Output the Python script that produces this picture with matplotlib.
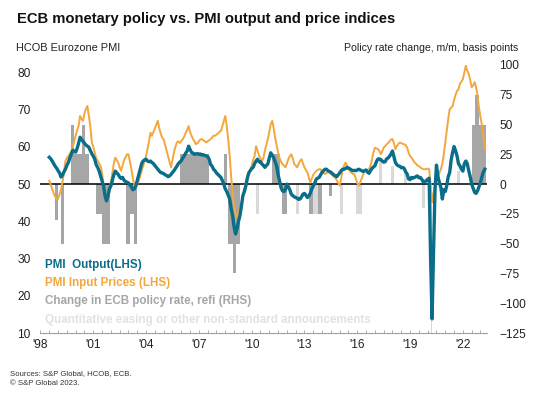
import pandas as pd
import matplotlib
matplotlib.use("Agg")
import matplotlib.pyplot as plt
from matplotlib.ticker import FixedLocator, MultipleLocator

plt.rcParams['font.family'] = ['Liberation Sans', 'DejaVu Sans']

# ─────────────────────────────────────────────
# DADOS (mensais a partir de jul/1998)
# ─────────────────────────────────────────────
INICIO = "1998-07"

pmi_output = [
    57.2, 56.8, 56.2, 55.5, 54.8, 54.3,                                  # 1998 (jul-dez)
    53.6, 53.0, 51.9, 52.4, 53.3, 54.0, 55.0, 55.8, 57.0, 58.0, 59.1, 58.8,  # 1999
    58.6, 59.6, 61.0, 62.6, 62.0, 61.5, 61.0, 60.5, 60.2, 59.9, 59.0, 58.2,  # 2000
    57.5, 56.7, 55.2, 54.5, 53.5, 52.2, 51.0, 49.5, 46.9, 45.5, 46.8, 48.7,  # 2001
    49.5, 51.0, 52.5, 53.5, 53.0, 52.6, 51.9, 51.5, 51.8, 51.0, 50.7, 50.5,  # 2002
    50.3, 49.8, 49.2, 48.5, 48.7, 49.5, 51.0, 52.5, 54.0, 55.5, 56.2, 56.5,  # 2003
    56.7, 56.2, 56.0, 56.2, 55.8, 55.5, 55.0, 54.5, 54.0, 53.5, 53.1, 53.0,  # 2004
    52.8, 52.5, 52.3, 52.0, 52.2, 52.6, 53.1, 53.6, 54.2, 54.8, 55.5, 55.9,  # 2005
    56.3, 57.0, 57.6, 58.3, 58.9, 60.2, 59.3, 58.5, 58.3, 58.0, 58.1, 58.2,  # 2006
    58.0, 58.1, 57.8, 57.9, 57.7, 57.6, 57.4, 56.7, 55.3, 54.8, 54.0, 53.6,  # 2007
    53.0, 52.6, 52.2, 51.8, 51.0, 50.0, 48.7, 48.0, 47.0, 46.0, 43.5, 41.5,  # 2008
    38.5, 36.6, 38.0, 40.0, 41.5, 44.0, 46.9, 48.0, 49.5, 51.5, 53.0, 53.6,  # 2009
    54.2, 54.5, 55.5, 56.2, 56.7, 56.0, 56.0, 55.4, 55.0, 54.5, 55.0, 55.4,  # 2010
    57.0, 58.4, 57.8, 57.1, 56.0, 54.9, 52.5, 50.9, 49.1, 48.2, 48.0, 48.5,  # 2011
    50.0, 49.3, 48.5, 47.3, 46.9, 46.6, 46.4, 46.2, 45.9, 46.0, 46.6, 47.3,  # 2012
    47.5, 47.0, 46.4, 46.8, 47.6, 48.7, 49.5, 50.3, 51.3, 51.6, 51.8, 52.5,  # 2013
    53.2, 53.6, 54.0, 54.0, 53.6, 53.4, 53.2, 52.8, 52.5, 52.2, 52.0, 52.5,  # 2014
    53.0, 53.6, 54.0, 54.0, 54.2, 54.5, 54.3, 54.1, 53.8, 53.6, 53.7, 53.6,  # 2015
    53.8, 54.0, 53.8, 53.6, 53.4, 53.6, 53.8, 53.2, 52.9, 53.6, 54.2, 54.6,  # 2016
    54.9, 56.0, 56.7, 56.8, 56.6, 56.2, 55.9, 56.0, 56.8, 57.0, 57.5, 58.1,  # 2017
    58.9, 57.3, 55.8, 55.2, 54.9, 54.8, 54.4, 54.5, 54.2, 53.3, 52.7, 51.4,  # 2018
    51.2, 51.8, 51.6, 51.8, 52.0, 52.2, 51.7, 51.8, 51.3, 50.6, 50.7, 50.9,  # 2019
    51.3, 51.6, 29.7, 13.8, 31.9, 48.5, 55.1, 52.0, 50.4, 49.1, 46.0, 48.5,  # 2020
    48.0, 49.6, 52.0, 53.1, 56.5, 58.5, 60.1, 59.0, 57.6, 55.5, 54.9, 54.0,  # 2021
    53.5, 55.5, 56.2, 55.5, 53.6, 52.0, 50.0, 48.9, 47.8, 47.5, 48.2, 49.3,  # 2022
    50.4, 52.0, 53.3, 54.0,                                              # 2023 (jan-abr)
]

input_prices = [
    50.9, 49.8, 48.7, 47.5, 46.6, 46.0,                                  # 1998 (jul-dez)
    46.0, 47.3, 48.5, 50.5, 53.0, 56.2, 57.0, 57.5, 58.2, 58.8, 59.8, 61.5,  # 1999
    63.0, 64.5, 65.6, 68.3, 67.5, 67.0, 69.0, 70.2, 71.0, 68.3, 65.5, 61.2,  # 2000
    60.0, 58.5, 57.0, 56.2, 55.5, 54.9, 53.0, 49.5, 48.0, 46.0, 46.5, 48.0,  # 2001
    50.4, 53.0, 55.5, 57.1, 56.5, 55.8, 54.5, 53.6, 55.0, 56.5, 57.2, 58.0,  # 2002
    58.0, 56.0, 54.0, 51.5, 49.5, 49.1, 50.0, 51.0, 52.2, 53.5, 54.8, 56.2,  # 2003
    57.5, 59.5, 61.5, 63.8, 63.0, 64.0, 65.0, 66.0, 67.0, 65.0, 63.5, 62.5,  # 2004
    62.0, 60.5, 59.0, 57.6, 56.0, 54.5, 56.5, 58.5, 60.0, 61.2, 61.5, 61.0,  # 2005
    61.6, 62.0, 62.8, 63.8, 64.5, 65.6, 64.0, 63.0, 62.1, 61.5, 60.7, 61.0,  # 2006
    61.5, 62.0, 62.1, 61.8, 61.5, 61.2, 61.5, 61.8, 62.1, 62.5, 63.0, 63.0,  # 2007
    63.3, 63.6, 64.0, 64.3, 65.5, 67.0, 68.3, 65.6, 62.0, 57.6, 52.0, 47.8,  # 2008
    44.0, 42.0, 41.1, 42.0, 43.3, 45.0, 47.0, 48.7, 50.5, 52.0, 53.0, 53.6,  # 2009
    55.0, 56.5, 57.6, 60.2, 59.0, 57.6, 57.0, 56.2, 57.0, 59.0, 60.5, 62.1,  # 2010
    64.0, 66.1, 67.0, 65.0, 62.5, 60.5, 58.5, 57.0, 56.0, 55.4, 55.0, 54.5,  # 2011
    55.5, 56.7, 57.5, 58.0, 57.0, 55.4, 55.0, 54.5, 55.5, 56.2, 56.7, 55.5,  # 2012
    54.5, 53.8, 53.1, 51.8, 50.4, 51.5, 52.5, 53.1, 53.5, 53.8, 54.0, 54.0,  # 2013
    53.5, 53.0, 52.7, 53.0, 53.2, 53.1, 52.8, 52.4, 52.0, 51.8, 51.0, 50.3,  # 2014
    49.6, 51.5, 53.5, 55.0, 55.8, 55.0, 54.0, 53.6, 53.0, 52.7, 52.7, 51.5,  # 2015
    50.2, 49.6, 50.5, 51.5, 52.5, 53.6, 53.8, 53.8, 54.0, 55.0, 56.5, 58.5,  # 2016
    59.8, 59.6, 59.4, 59.0, 58.0, 58.8, 59.8, 60.2, 60.7, 61.0, 61.5, 62.0,  # 2017
    62.1, 61.0, 59.4, 60.2, 60.8, 61.2, 61.0, 60.8, 60.7, 60.5, 59.8, 58.5,  # 2018
    57.5, 57.1, 56.5, 55.8, 55.5, 55.0, 54.8, 54.5, 54.2, 54.0, 54.0, 54.0,  # 2019
    54.2, 54.0, 50.0, 45.1, 47.5, 49.6, 51.0, 52.0, 53.1, 54.0, 55.5, 58.0,  # 2020
    61.2, 64.5, 67.5, 70.1, 70.5, 71.0, 72.5, 74.0, 75.0, 75.5, 77.0, 77.5,  # 2021
    78.2, 80.0, 81.8, 80.5, 79.6, 78.0, 76.0, 76.5, 77.4, 76.0, 73.8, 70.5,  # 2022
    68.0, 65.8, 62.5, 59.4,                                              # 2023 (jan-abr)
]

# Variação da taxa refi (pontos-base), por mês, como aparece no gráfico
refi_meses = [
    "1998-11", "1998-12", "1999-03", "1999-04",
    "1999-10", "1999-11", "1999-12", "2000-01", "2000-02", "2000-03", "2000-04",
    "2000-05", "2000-06", "2000-07", "2000-08", "2000-09",
    "2001-03", "2001-04", "2001-05", "2001-06",
    "2001-07", "2001-08", "2001-09", "2001-10", "2001-11",
    "2002-11", "2002-12", "2003-01", "2003-02", "2003-03", "2003-04", "2003-05", "2003-06",
    "2005-12", "2006-01", "2006-02", "2006-03", "2006-04", "2006-05", "2006-06",
    "2006-07", "2006-08", "2006-09", "2006-10", "2006-11", "2006-12", "2007-01",
    "2007-02", "2007-03", "2007-04", "2007-05", "2007-06", "2007-07",
    "2008-06", "2008-07",
    "2008-09", "2008-10", "2008-11", "2008-12", "2009-01", "2009-02", "2009-03", "2009-04",
    "2011-03", "2011-04", "2011-05", "2011-06", "2011-07",
    "2011-10", "2011-11", "2011-12",
    "2013-04", "2013-05", "2013-06", "2013-10", "2013-11", "2013-12",
    "2014-06", "2014-07",
    "2022-07", "2022-08", "2022-09", "2022-10", "2022-11", "2022-12",
    "2023-01", "2023-02", "2023-03", "2023-04",
]
refi_bp = [
    -30, -30, -50, -50,
    50, 50, 25, 25, 25, 25, 25,
    50, 50, 25, 25, 25,
    -25, -25, -25, -25,
    -50, -50, -50, -50, -50,
    -50, -50, -50, -25, -25, -25, -50, -50,
    25, 25, 25, 25, 25, 25, 25,
    25, 25, 25, 25, 25, 25, 25,
    25, 25, 25, 25, 25, 25,
    25, 25,
    -50, -50, -50, -75, -75, -50, -50, -50,
    25, 25, 25, 25, 25,
    -25, -25, -25,
    -25, -25, -25, -25, -25, -25,
    -10, -10,
    50, 50, 75, 75, 75, 50,
    50, 50, 50, 50,
]

# QE e outros anúncios não convencionais
qe_meses = [
    "2010-04", "2010-05", "2012-07", "2012-08",
    "2013-07", "2013-08", "2013-09", "2015-01", "2015-02",
    "2015-12", "2016-01", "2016-02", "2016-03",
    "2017-04", "2017-05", "2017-12", "2018-01", "2018-09", "2018-10",
    "2019-09", "2019-10", "2020-03", "2021-09", "2021-10",
]
qe_bp = [
    -25, -25, -25, -25,
    -25, -25, -25, -25, -25,
    -25, -25, -25, -25,
    19, 19, 15, 15, 12, 12,
    -20, -20, -125, 11, 11,
]

anos_rotulo = [1998, 2001, 2004, 2007, 2010, 2013, 2016, 2019, 2022]

AZUL = "#0a6d89"
LARANJA = "#f3a73c"
CINZA = "#a6a6a6"
CINZA_CLARO = "#d9d9d9"


def ano_decimal(datas):
    datas = pd.to_datetime(datas)
    return datas.year + (datas.month - 1) / 12


x_linhas = ano_decimal(pd.date_range(INICIO, periods=len(pmi_output), freq="MS"))
x_refi = ano_decimal(refi_meses)
x_qe = ano_decimal(qe_meses)

# ─────────────────────────────────────────────
# GRÁFICO
# ─────────────────────────────────────────────
fig = plt.figure(figsize=(5.44, 3.99), dpi=100)
ax = fig.add_axes([0.0744, 0.1654, 0.8208, 0.6717])
ax2 = ax.twinx()

# barras (eixo direito) atrás das linhas
ax2.bar(x_qe, qe_bp, width=0.09, align="edge", color=CINZA_CLARO, linewidth=0)
ax2.bar(x_refi, refi_bp, width=0.09, align="edge", color=CINZA, linewidth=0)
ax2.set_ylim(-125, 100)

ax.set_zorder(ax2.get_zorder() + 1)
ax.patch.set_visible(False)

ax.axhline(50, color="black", linewidth=1.1, zorder=1)
ax.plot(x_linhas, input_prices, color=LARANJA, linewidth=1.4, zorder=2)
ax.plot(x_linhas, pmi_output, color=AZUL, linewidth=2.4, zorder=3)
ax.set_ylim(10, 82)
ax.set_xlim(1998.0, 2023.37)

for a in (ax, ax2):
    for lado in ("top", "left", "right"):
        a.spines[lado].set_visible(False)
ax2.spines["bottom"].set_visible(False)
ax.spines["bottom"].set_color("#a0a0a0")
ax.spines["bottom"].set_linewidth(0.8)

ax.set_yticks([10, 20, 30, 40, 50, 60, 70, 80])
ax.tick_params(axis="y", length=0, pad=7, labelsize=8.6, labelcolor="#222222")
ax2.set_yticks([-125, -100, -75, -50, -25, 0, 25, 50, 75, 100])
ax2.tick_params(axis="y", length=0, pad=9, labelsize=8.6, labelcolor="#222222")
for t in ax2.get_yticklabels():
    t.set_horizontalalignment("left")

ax.xaxis.set_major_locator(FixedLocator(anos_rotulo))
ax.set_xticklabels([f"'{a % 100:02d}" for a in anos_rotulo])
ax.xaxis.set_minor_locator(MultipleLocator(0.5))
ax.tick_params(axis="x", which="both", direction="in", length=2.5, width=0.6,
               color="#a0a0a0", labelsize=8.6, labelcolor="#222222", pad=4)

# títulos e textos
fig.text(0.031, 0.952, "ECB monetary policy vs. PMI output and price indices",
         fontsize=10.6, fontweight="bold", va="center", color="#111111")
fig.text(0.030, 0.880, "HCOB Eurozone PMI", fontsize=7.9, va="center", color="#222222")
fig.text(0.952, 0.880, "Policy rate change, m/m, basis points", fontsize=7.6,
         va="center", ha="right", color="#222222")

# legenda em texto colorido
legenda = [
    ("PMI  Output(LHS)", AZUL, 265),
    ("PMI Input Prices (LHS)", LARANJA, 283),
    ("Change in ECB policy rate, refi (RHS)", CINZA, 301),
    ("Quantitative easing or other non-standard announcements", "#e2e2e2", 320),
]
for texto, cor, y_px in legenda:
    fig.text(45 / 544, 1 - y_px / 399, texto, color=cor, fontsize=8.4,
             fontweight="bold", va="center")

fig.text(0.019, 0.063, "Sources: S&P Global, HCOB, ECB.", fontsize=5.6, color="#333333",
         va="center")
fig.text(0.019, 0.040, "\u00a9 S&P Global 2023.", fontsize=5.6, color="#333333",
         va="center")

fig.savefig("out.png", dpi=100)
